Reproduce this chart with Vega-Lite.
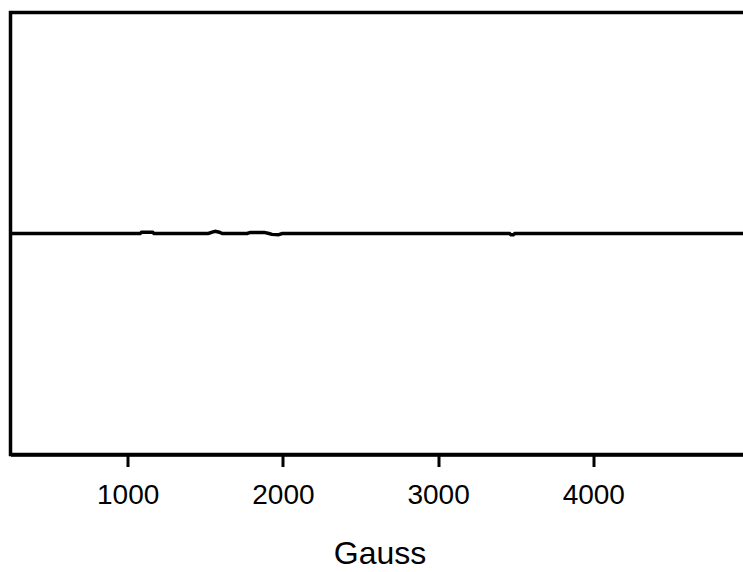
{
  "$schema": "https://vega.github.io/schema/vega-lite/v6.json",
  "width": 738,
  "height": 442,
  "autosize": {"type": "none"},
  "padding": {"left": 10.5, "top": 12.5, "right": 0, "bottom": 117.5},
  "background": "white",
  "config": {
    "view": {"stroke": "black", "strokeWidth": 3.5},
    "font": "Liberation Sans"
  },
  "data": {
    "values": [
      {"gauss": 245, "v": 0},
      {"gauss": 1080, "v": 0},
      {"gauss": 1090, "v": 0.006},
      {"gauss": 1160, "v": 0.006},
      {"gauss": 1170, "v": 0},
      {"gauss": 1520, "v": 0},
      {"gauss": 1545, "v": 0.006},
      {"gauss": 1565, "v": 0.01},
      {"gauss": 1590, "v": 0.006},
      {"gauss": 1610, "v": 0},
      {"gauss": 1770, "v": 0},
      {"gauss": 1790, "v": 0.005},
      {"gauss": 1880, "v": 0.005},
      {"gauss": 1910, "v": 0},
      {"gauss": 1930, "v": -0.004},
      {"gauss": 1970, "v": -0.006},
      {"gauss": 1995, "v": 0},
      {"gauss": 3460, "v": 0},
      {"gauss": 3470, "v": -0.006},
      {"gauss": 3485, "v": -0.006},
      {"gauss": 3495, "v": 0},
      {"gauss": 5000, "v": 0}
    ]
  },
  "mark": {"type": "line", "color": "black", "strokeWidth": 3.5, "clip": true},
  "encoding": {
    "x": {
      "field": "gauss",
      "type": "quantitative",
      "scale": {"domain": [245, 5000], "nice": false, "zero": false},
      "axis": {
        "values": [1000, 2000, 3000, 4000],
        "format": "d",
        "title": "Gauss",
        "grid": false,
        "domainWidth": 3.5,
        "domainColor": "black",
        "tickColor": "black",
        "tickWidth": 3,
        "tickSize": 12,
        "labelFontSize": 28,
        "labelColor": "black",
        "labelPadding": 15,
        "labelFont": "Liberation Sans",
        "titleFont": "Liberation Sans",
        "titleFontSize": 32,
        "titleFontWeight": "normal",
        "titleColor": "black",
        "titlePadding": 29
      }
    },
    "y": {
      "field": "v",
      "type": "quantitative",
      "scale": {"domain": [-1, 1]},
      "axis": null
    }
  }
}
